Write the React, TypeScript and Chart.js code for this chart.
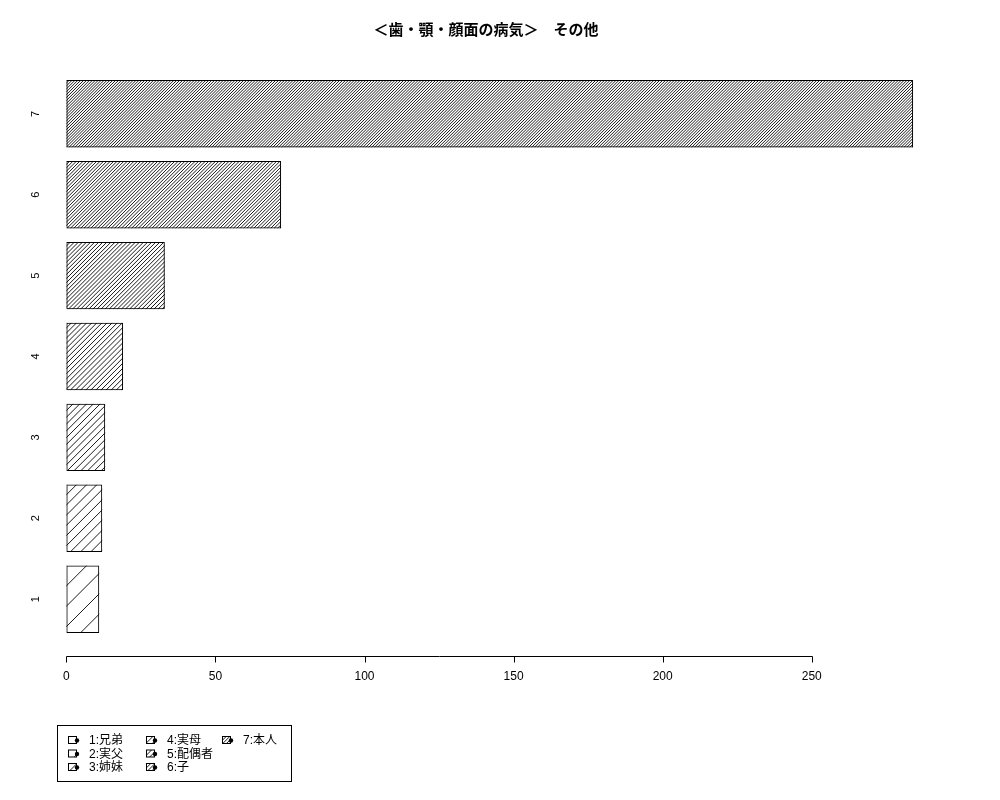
import { useEffect, useRef } from 'react';
import Chart from 'chart.js/auto';

const chartTitle = '＜歯・顎・顔面の病気＞　その他';
const categories = ['1', '2', '3', '4', '5', '6', '7'];
const counts = [11, 12, 13, 19, 33, 72, 284];
const legendLabels = ['1:兄弟', '2:実父', '3:姉妹', '4:実母', '5:配偶者', '6:子', '7:本人'];
const xTicks = [0, 50, 100, 150, 200, 250];
const hatchDensity = [5, 10, 15, 20, 25, 30, 35];

const FONT = '"Liberation Sans", "Noto Sans CJK JP", sans-serif';

// R barplot style limits: bars of width 1 with 0.2 spacing, 4% extension
const peak = Math.max(...counts);
const valueMin = -0.5 - 0.04 * (peak + 0.5);
const valueMax = peak + 0.04 * (peak + 0.5);
const span = categories.length * 1.2 - 0.2;
const indexMin = (0.2 - 0.04 * span + 0.5) / 1.2;
const indexMax = (categories.length * 1.2 + 0.04 * span + 0.5) / 1.2;

function hatch(ctx: CanvasRenderingContext2D, l: number, t: number, r: number, b: number, density: number) {
  const step = (72 / density) * Math.SQRT2;
  ctx.save();
  ctx.beginPath();
  ctx.rect(l, t, r - l, b - t);
  ctx.clip();
  ctx.beginPath();
  for (let c = l + t; c <= r + b + step; c += step) {
    ctx.moveTo(c - b, b);
    ctx.lineTo(c - t, t);
  }
  ctx.strokeStyle = '#000';
  ctx.lineWidth = 0.9;
  ctx.stroke();
  ctx.restore();
}

const decorations = {
  id: 'decorations',
  afterDatasetsDraw(chart: any) {
    const ctx: CanvasRenderingContext2D = chart.ctx;
    const meta = chart.getDatasetMeta(0);
    meta.data.forEach((bar: any, i: number) => {
      const { x, y, base, height } = bar.getProps(['x', 'y', 'base', 'height'], true);
      hatch(ctx, Math.min(base, x), y - height / 2, Math.max(base, x), y + height / 2, hatchDensity[i]);
    });

    const xs = chart.scales.x;
    const ys = chart.scales.y;
    const axisY = Math.round(chart.chartArea.bottom) + 1.5;
    ctx.save();
    ctx.strokeStyle = '#000';
    ctx.lineWidth = 1;

    // x axis
    const x0 = Math.round(xs.getPixelForValue(xTicks[0])) + 0.5;
    const x1 = Math.round(xs.getPixelForValue(xTicks[xTicks.length - 1])) + 0.5;
    ctx.beginPath();
    ctx.moveTo(x0, axisY);
    ctx.lineTo(x1, axisY);
    xTicks.forEach((t) => {
      const px = Math.round(xs.getPixelForValue(t)) + 0.5;
      ctx.moveTo(px, axisY);
      ctx.lineTo(px, axisY + 6);
    });
    ctx.stroke();
    ctx.fillStyle = '#000';
    ctx.font = `12px ${FONT}`;
    ctx.textAlign = 'center';
    ctx.textBaseline = 'middle';
    xTicks.forEach((t) => {
      ctx.fillText(String(t), xs.getPixelForValue(t), axisY + 20);
    });

    // y category labels, rotated
    ctx.font = `11px ${FONT}`;
    categories.forEach((c, i) => {
      const py = ys.getPixelForValue(i + 1);
      ctx.save();
      ctx.translate(36, py);
      ctx.rotate(-Math.PI / 2);
      ctx.fillText(c, 0, 0);
      ctx.restore();
    });

    // title
    ctx.font = `bold 15px "Noto Sans CJK JP", sans-serif`;
    ctx.fillText(chartTitle, (chart.chartArea.left + chart.chartArea.right) / 2 - 3, 29);

    // legend
    ctx.strokeRect(57.5, 725.5, 234, 56);
    const colX = [68, 146, 222];
    const rowY = [740, 753.5, 767];
    ctx.font = `12px ${FONT}`;
    ctx.textAlign = 'left';
    legendLabels.forEach((label, i) => {
      const cx = colX[Math.floor(i / 3)];
      const cy = rowY[i % 3];
      ctx.strokeRect(cx + 0.5, cy - 3.5, 8, 7);
      hatch(ctx, cx + 0.5, cy - 3.5, cx + 8.5, cy + 3.5, hatchDensity[i] * 0.8);
      ctx.beginPath();
      ctx.arc(cx + 9, cy + 0.5, 2.2, 0, Math.PI * 2);
      ctx.fill();
      ctx.fillText(label, cx + 21, cy + 1);
    });
    ctx.restore();
  },
};

export default function App() {
  const canvasRef = useRef<HTMLCanvasElement>(null);
  const chartRef = useRef<Chart | null>(null);

  useEffect(() => {
    document.body.style.margin = '0';
    if (!canvasRef.current) return;
    if (chartRef.current) chartRef.current.destroy();

    chartRef.current = new Chart(canvasRef.current, {
      type: 'bar',
      data: {
        datasets: [
          {
            data: counts.map((v, i) => ({ x: v, y: i + 1 })),
            backgroundColor: 'rgba(0,0,0,0)',
            borderColor: '#000',
            borderWidth: 1,
            borderSkipped: false,
            barPercentage: 1 / 1.2,
            categoryPercentage: 1,
          },
        ],
      },
      options: {
        indexAxis: 'y',
        responsive: false,
        animation: false,
        layout: { padding: { left: 31, right: 53, top: 58, bottom: 145 } },
        plugins: {
          legend: { display: false },
          title: { display: false },
          tooltip: { enabled: false },
        },
        scales: {
          x: { type: 'linear', display: false, min: valueMin, max: valueMax },
          y: {
            type: 'linear',
            display: false,
            offset: false,
            min: indexMin,
            max: indexMax,
            afterBuildTicks: (scale: any) => {
              scale.ticks = categories.map((_, i) => ({ value: i + 1 }));
            },
          },
        },
      },
      plugins: [decorations],
    });

    return () => {
      if (chartRef.current) {
        chartRef.current.destroy();
        chartRef.current = null;
      }
    };
  }, []);

  return (
    <div style={{ width: 1000, height: 800, background: '#fff' }}>
      <canvas ref={canvasRef} width={1000} height={800} />
    </div>
  );
}
